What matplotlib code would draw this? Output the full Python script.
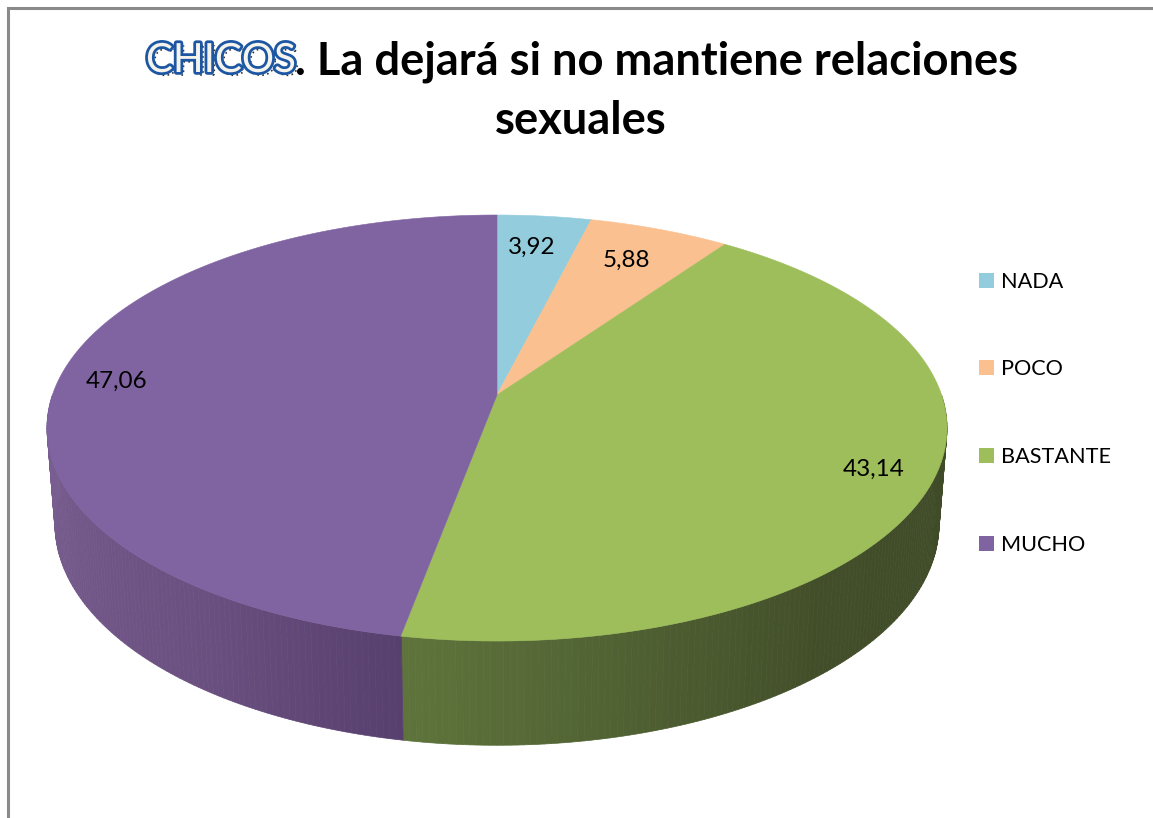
#!/usr/bin/env python3
import matplotlib
matplotlib.use('Agg')
import matplotlib.pyplot as plt
import matplotlib.patheffects as pe
import numpy as np
from matplotlib.collections import PolyCollection
from matplotlib.patches import PathPatch, Patch
from matplotlib.textpath import TextPath
from matplotlib.font_manager import FontProperties
from matplotlib.transforms import Affine2D
from matplotlib.colors import to_rgb

categories = ['NADA', 'POCO', 'BASTANTE', 'MUCHO']
values = [3.92, 5.88, 43.14, 47.06]
value_labels = ['3,92', '5,88', '43,14', '47,06']

colors = ['#93CDDD', '#FAC090', '#9DBE5B', '#8064A2']
# side wall shading, (angle, colour) stops, only the two front slices show a wall
wall_angles = [90, 140, 165, 190.6, 190.6, 215, 250, 270]
wall_colors = ['#3F4A28', '#424E29', '#4F6032', '#5F743C',
               '#573F6E', '#6A5080', '#755A8C', '#7A5F92']

label_x = [532, 626, 874, 117]
label_y = [247, 260, 469, 381]
FONT = 'Lato'
K = 0.155


def project(theta, cx, cy, rx, ry, frac=1.0):
    # circle seen in perspective, theta clockwise from the top, in degrees
    t = np.radians(theta)
    u, v = frac * np.sin(t), frac * np.cos(t)
    w = 1 + K * v
    return cx + rx * u / w, cy - ry * v / w


TOP = (497, 395, 444.6, 207.9)
BOTTOM = (497, 490, 436.7, 215.7)

fig = plt.figure(figsize=(11.53, 8.18), dpi=100)
ax = fig.add_axes([0, 0, 1, 1])
ax.set_xlim(0, 1153)
ax.set_ylim(818, 0)
ax.axis('off')

# chart frame, runs off the right and bottom of the picture
ax.plot([7.5, 7.5, 1153], [818, 7.5, 7.5], color='#8A8A8A', lw=2.2, solid_joinstyle='miter')

# side wall
theta = np.arange(90, 270, 0.75)
x0, y0 = project(theta, *TOP)
x1, y1 = project(theta, *BOTTOM)
x2, y2 = project(theta + 0.75, *BOTTOM)
x3, y3 = project(theta + 0.75, *TOP)
quads = np.stack([np.c_[x0, y0], np.c_[x1, y1], np.c_[x2, y2], np.c_[x3, y3]], axis=1)
stops = np.array([to_rgb(c) for c in wall_colors])
shade = np.c_[[np.interp(theta + 0.375, wall_angles, stops[:, i]) for i in range(3)]].T
ax.add_collection(PolyCollection(quads, facecolors=shade, edgecolors='face', linewidths=0.5))

# top face, slices from the values
edges = np.cumsum([0] + values) / sum(values) * 360
for i in range(len(values)):
    a = np.linspace(edges[i], edges[i + 1], 200)
    px, py = project(a, *TOP)
    ax.fill(np.r_[TOP[0], px], np.r_[TOP[1], py], color=colors[i], lw=0.4)

for x, y, s in zip(label_x, label_y, value_labels):
    ax.text(x, y, s, family=FONT, fontsize=17.5, ha='center', va='center', color='black')

# legend
handles = [Patch(facecolor=c, edgecolor='none') for c in colors]
ax.legend(handles, categories, loc='upper left', bbox_to_anchor=(957 / 1153, 1 - 250 / 818),
          frameon=False, prop={'family': FONT, 'size': 15.6}, labelspacing=3.13,
          handlelength=0.69, handleheight=0.69, handletextpad=0.32, borderpad=0.5)

# title, the first word is a WordArt in the source
shadow_font = FontProperties(family=FONT, size=29)
tp = TextPath((0, 0), 'CHICOS', prop=shadow_font)
scale = 100 / 72
tr = Affine2D().scale(scale, -scale).translate(149, 75) + ax.transData
ax.add_patch(PathPatch(tp, transform=tr, fc='none', ec='#333333', lw=1.2, ls=(0, (1, 2))))
ax.text(146, 72, 'CHICOS', family=FONT, fontsize=29, ha='left', va='baseline',
        color='#F4F4EC', path_effects=[pe.Stroke(linewidth=4, foreground='#1D57A3'), pe.Normal()])
ax.text(295, 74.5, '. La dejará si no mantiene relaciones', family=FONT, weight='bold', fontsize=32.7,
        ha='left', va='baseline', color='black')
ax.text(581, 134, 'sexuales', family=FONT, weight='bold', fontsize=32.7, ha='center', va='baseline',
        color='black')

fig.savefig('out.png', dpi=100)
